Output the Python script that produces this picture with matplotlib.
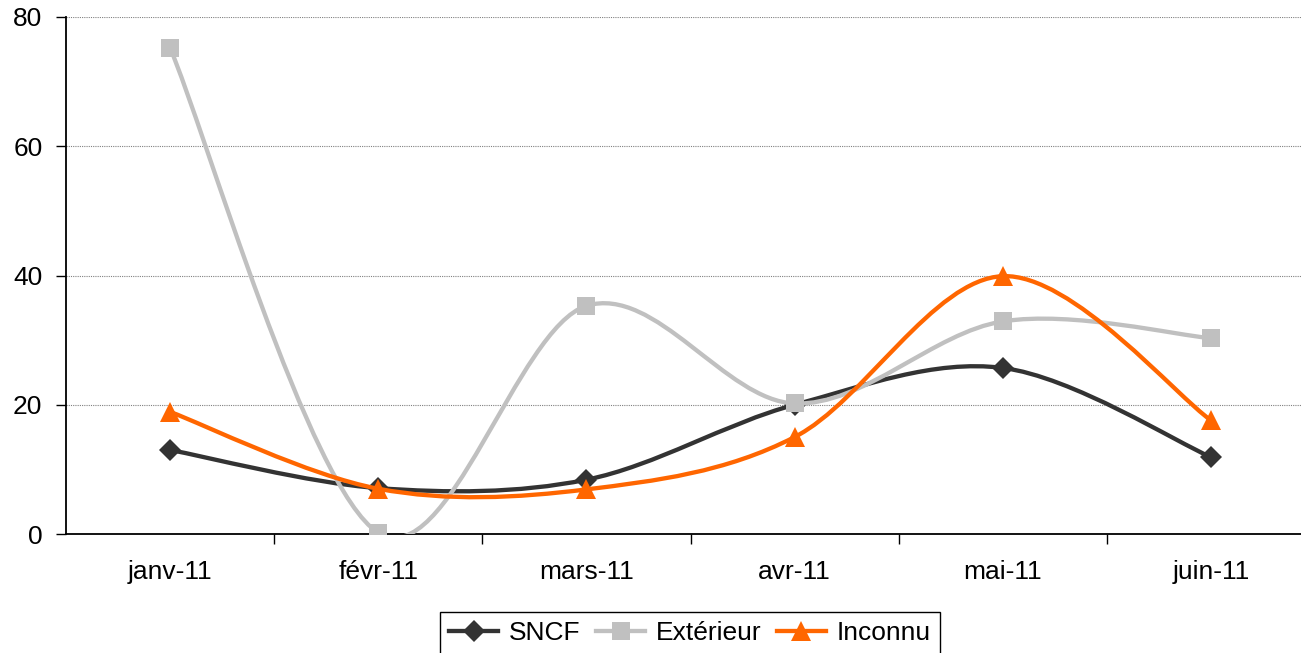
import numpy as np
from matplotlib import pyplot as plt
from matplotlib.path import Path
from matplotlib.patches import PathPatch
from matplotlib.lines import Line2D

months = ["janv-11", "févr-11", "mars-11", "avr-11", "mai-11", "juin-11"]
sncf = [13.0, 7.1, 8.4, 20.0, 25.7, 11.9]
exterieur = [75.2, 0.2, 35.3, 20.2, 32.9, 30.3]
inconnu = [18.9, 7.0, 6.9, 15.0, 39.9, 17.6]


def smooth_path(xs, ys):
    # Excel-like smoothed line: Catmull-Rom segments as cubic Bezier curves
    pts = np.column_stack([xs, ys]).astype(float)
    n = len(pts)
    verts = [pts[0]]
    codes = [Path.MOVETO]
    for i in range(n - 1):
        p0 = pts[max(i - 1, 0)]
        p1 = pts[i]
        p2 = pts[i + 1]
        p3 = pts[min(i + 2, n - 1)]
        c1 = p1 + (p2 - p0) / 6.0
        c2 = p2 - (p3 - p1) / 6.0
        verts += [c1, c2, p2]
        codes += [Path.CURVE4] * 3
    return Path(verts, codes)


def main():
    plt.rcParams.update({
        "font.family": ["Liberation Sans", "DejaVu Sans"],
        "font.size": 19,
    })

    fig = plt.figure(figsize=(13.01, 6.53), dpi=100)
    ax = fig.add_axes([66 / 1301, 1 - 534 / 653, (1315 - 66) / 1301, (534 - 17) / 653])

    series = [
        ("SNCF", sncf, "#333333", "D", 11),
        ("Extérieur", exterieur, "#C0C0C0", "s", 13),
        ("Inconnu", inconnu, "#FF6600", "^", 14),
    ]
    x = np.arange(len(months))
    handles = []
    for i, (label, vals, color, marker, ms) in enumerate(series):
        patch = PathPatch(smooth_path(x, vals), facecolor="none", edgecolor=color,
                          linewidth=3.1, zorder=3 + i, capstyle="round", joinstyle="round")
        ax.add_patch(patch)
        ax.plot(x, vals, linestyle="none", marker=marker, markersize=ms,
                color=color, markeredgewidth=0, zorder=3 + i)
        handles.append(Line2D([], [], color=color, linewidth=3.1, marker=marker,
                              markersize=ms, markeredgewidth=0, label=label))

    ax.set_xlim(-0.5, len(months) - 0.5)
    ax.set_ylim(0, 80)
    ax.set_yticks([0, 20, 40, 60, 80])
    ax.set_xticks(x)
    ax.set_xticklabels(months)
    ax.set_xticks(np.arange(0.5, len(months) - 1), minor=True)
    ax.tick_params(axis="x", which="major", length=0, pad=19, labelsize=19)
    ax.tick_params(axis="x", which="minor", length=7, width=1, direction="out")
    ax.tick_params(axis="y", length=7, width=1, direction="out", pad=10, labelsize=19)
    ax.grid(axis="y", color="#808080", linestyle=(0, (1, 1)), linewidth=0.8)
    ax.set_axisbelow(True)

    ax.spines["top"].set_visible(False)
    ax.spines["right"].set_visible(False)
    ax.spines["left"].set_linewidth(1.3)
    ax.spines["bottom"].set_linewidth(1.3)

    leg = fig.legend(handles=handles, loc="upper center", ncol=3,
                     bbox_to_anchor=(690 / 1301, 1 - 612 / 653),
                     frameon=True, fancybox=False, framealpha=1, edgecolor="black",
                     handlelength=1.85, handletextpad=0.4, columnspacing=0.6,
                     borderpad=0.35, borderaxespad=0, fontsize=19)
    leg.get_frame().set_linewidth(1.0)

    fig.savefig("out.png", dpi=100)


if __name__ == '__main__':
    main()
